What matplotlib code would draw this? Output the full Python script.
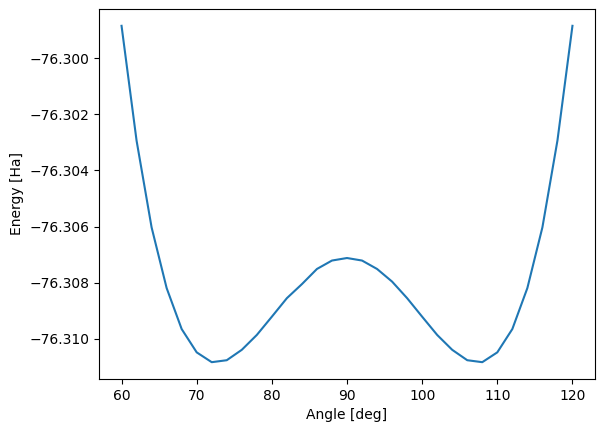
import matplotlib
matplotlib.use("Agg")
import matplotlib.pyplot as plt

# bond angle scan
angles = [60, 62, 64, 66, 68, 70, 72, 74, 76, 78, 80, 82, 84, 86, 88, 90,
          92, 94, 96, 98, 100, 102, 104, 106, 108, 110, 112, 114, 116, 118, 120]
energies = [-76.29885, -76.30294, -76.30603, -76.30819, -76.30965, -76.31048,
            -76.31083, -76.31076, -76.31039, -76.30986, -76.30921, -76.30855,
            -76.30805, -76.30751, -76.30721, -76.30712, -76.30721, -76.30751,
            -76.30796, -76.30855, -76.30921, -76.30986, -76.31039, -76.31076,
            -76.31083, -76.31048, -76.30965, -76.30819, -76.30603, -76.30294,
            -76.29885]

fig = plt.figure(figsize=(6.05, 4.32), dpi=100)
ax = fig.add_axes([99 / 605, 1 - 379 / 432, 496 / 605, 370 / 432])
ax.plot(angles, energies)
ax.set_xlabel('Angle [deg]')
ax.set_ylabel('Energy [Ha]')

fig.savefig('out.png')
